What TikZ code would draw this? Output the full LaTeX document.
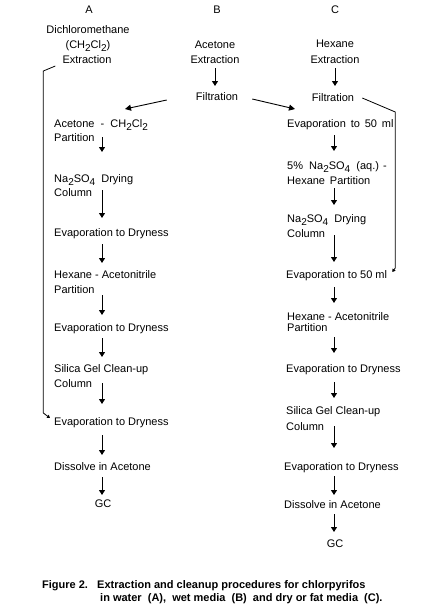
\documentclass[tikz,border=0pt]{standalone}
\usepackage{fontspec}
\setmainfont{Liberation Sans}
\usetikzlibrary{calc,arrows.meta}
\newcommand\dn[1]{\raisebox{-3.5pt}{\fontsize{10}{10}\selectfont #1}}
\begin{document}
\begin{tikzpicture}[x=1pt,y=-1pt,
  lbl/.style={inner sep=0pt, anchor=base west, font=\fontsize{11}{13}\selectfont},
  ctr/.style={lbl, anchor=base},
  arr/.style={line width=1pt, -{Triangle[width=6pt,length=5pt]}},
  diag/.style={line width=0.9pt, -{Triangle[width=6pt,length=6pt]}},
  loopline/.style={line width=0.8pt, -{Triangle[width=3.5pt,length=3pt]}},
  capt/.style={inner sep=0pt, anchor=base west, font=\fontsize{11}{13}\selectfont\bfseries}]
\fill[white] (0,0) rectangle (438,614);
\useasboundingbox (0,0) rectangle (438,614);
\coordinate (xA) at (102,0);
\coordinate (xB) at (215,0);
\coordinate (xC) at (334,0);

% headers
\node[ctr] (hA) at (89,13) {A};
\node[ctr] (hB) at (217,13) {B};
\node[ctr] (hC) at (335,13) {C};

% top of A
\node[ctr] (aDcm) at (88,33) {Dichloromethane};
\node[ctr] (aForm) at (88,48) {(CH\dn{2}Cl\dn{2})};
\node[ctr] (aExt) at (87,63) {Extraction};

% B
\node[ctr] (bAc) at (215,48) {Acetone};
\node[ctr] (bExt) at (215,63) {Extraction};
\node[ctr] (bFilt) at (217,100) {Filtration};

% top of C
\node[ctr] (cHx) at (335,47) {Hexane};
\node[ctr] (cExt) at (335,63) {Extraction};
\node[ctr] (cFilt) at (333,101) {Filtration};

% column A
\node[lbl] (aAcet) at (54,127) {Acetone\ \ -\ \ CH\dn{2}Cl\dn{2}};
\node[lbl] (aPart) at (54,141) {Partition};
\node[lbl] (aNa) at (54,182) {Na\dn{2}SO\dn{4}\ \ Drying};
\node[lbl] (aCol) at (54,196) {Column};
\node[lbl] (aEv1) at (54,236) {Evaporation to Dryness};
\node[lbl] (aHex) at (54,278) {Hexane - Acetonitrile};
\node[lbl] (aPart2) at (54,293) {Partition};
\node[lbl] (aEv2) at (54,331) {Evaporation to Dryness};
\node[lbl] (aSil) at (54,372) {Silica Gel Clean-up};
\node[lbl] (aCol2) at (54,387) {Column};
\node[lbl] (aEv3) at (54,425) {Evaporation to Dryness};
\node[lbl] (aDis) at (54,470) {Dissolve in Acetone};
\node[ctr] (aGC) at (103,507) {GC};

% column C
\node[lbl] (cEv1) at (287,127) {Evaporation\ \,to\ \,50\ \,ml};
\node[lbl] (c5) at (287,169) {5\%\ \ Na\dn{2}SO\dn{4}\ \ (aq.) -};
\node[lbl] (cHP) at (287,184) {Hexane\ \,Partition};
\node[lbl] (cNa) at (287,222) {Na\dn{2}SO\dn{4}\ \ Drying};
\node[lbl] (cCol) at (287,237) {Column};
\node[lbl] (cEv2) at (286,278) {Evaporation to 50 ml};
\node[lbl] (cHex) at (287,320) {Hexane - Acetonitrile};
\node[lbl] (cPart) at (287,331) {Partition};
\node[lbl] (cEv3) at (286,372) {Evaporation to Dryness};
\node[lbl] (cSil) at (286,414) {Silica Gel Clean-up};
\node[lbl] (cCol2) at (286,430) {Column};
\node[lbl] (cEv4) at (284,470) {Evaporation to Dryness};
\node[lbl] (cDis) at (284,508) {Dissolve in Acetone};
\node[ctr] (cGC) at (335,547) {GC};

% B and C top arrows
\draw[arr] ($(bExt.base -| xB)+(0,5)$) -- ($(bFilt.base -| xB)+(0,-14)$);
\draw[arr] ($(cExt.base -| cExt)+(0,5)$) -- ($(cFilt.base -| cExt)+(0,-15)$);
\draw[diag] ($(bFilt.base west)+(-29,0)$) -- ($(aAcet.base west)+(71,-18)$);
\draw[diag] ($(bFilt.base east)+(14,-1)$) -- ($(cEv1.base west)+(8,-18)$);

% column A arrows
\draw[arr] ($(aPart.base -| xA)+(0,-4)$) -- ($(aNa.base -| xA)+(0,-30)$);
\draw[arr] ($(aCol.base -| xA)+(0,-6)$) -- ($(aEv1.base -| xA)+(0,-18)$);
\draw[arr] ($(aEv1.base -| xA)+(0,8)$) -- ($(aHex.base -| xA)+(0,-15)$);
\draw[arr] ($(aPart2.base -| xA)+(0,2)$) -- ($(aEv2.base -| xA)+(0,-16)$);
\draw[arr] ($(aEv2.base -| xA)+(0,7)$) -- ($(aSil.base -| xA)+(0,-15)$);
\draw[arr] ($(aCol2.base -| xA)+(0,-4)$) -- ($(aEv3.base -| xA)+(0,-21)$);
\draw[arr] ($(aEv3.base -| xA)+(0,10)$) -- ($(aDis.base -| xA)+(0,-15)$);
\draw[arr] ($(aDis.base -| xA)+(0,7)$) -- ($(aGC.base -| xA)+(0,-12)$);

% column C arrows
\draw[arr] ($(cEv1.base -| xC)+(0,8)$) -- ($(c5.base -| xC)+(0,-18)$);
\draw[arr] ($(cHP.base -| xC)+(0,4)$) -- ($(cNa.base -| xC)+(0,-17)$);
\draw[arr] ($(cCol.base -| xC)+(0,-2)$) -- ($(cEv2.base -| xC)+(0,-16)$);
\draw[arr] ($(cEv2.base -| xC)+(0,9)$) -- ($(cHex.base -| xC)+(0,-17)$);
\draw[arr] ($(cPart.base -| xC)+(0,6)$) -- ($(cEv3.base -| xC)+(0,-19)$);
\draw[arr] ($(cEv3.base -| xC)+(0,10)$) -- ($(cSil.base -| xC)+(0,-16)$);
\draw[arr] ($(cCol2.base -| xC)+(0,-4)$) -- ($(cEv4.base -| xC)+(0,-22)$);
\draw[arr] ($(cEv4.base -| xC)+(0,6)$) -- ($(cDis.base -| xC)+(0,-13)$);
\draw[arr] ($(cDis.base -| xC)+(0,6)$) -- ($(cGC.base -| xC)+(0,-15)$);

% loop A
\path ($(aExt.base west)+(-7,3)$) coordinate (aL1) ++(-12,5) coordinate (aL2);
\coordinate (aL3) at ($(aEv3.base west)+(-10,-12)$);
\coordinate (aL4) at ($(aEv3.base west)+(-4,-7)$);
\draw[loopline] (aL1) -- (aL2) -- (aL2 |- aL3) -- (aL4);

% loop C
\path ($(cFilt.base east)+(8,-3)$) coordinate (cL1) ++(33,14) coordinate (cL2);
\coordinate (cL4) at ($(cEv2.base east)+(5,-6)$);
\coordinate (cL3) at ($(cL4)+(4,-4)$);
\draw[loopline] (cL1) -- (cL2) -- (cL2 |- cL3) -- (cL4);

% caption
\node[capt] (cap1) at (42,588) {Figure 2.\ \ \ Extraction and cleanup procedures for chlorpyrifos};
\node[capt] (cap2) at (100,601) {in water\ \ (A),\ \ wet media\ \ (B)\ \ and dry or fat media\ \ (C).};
\end{tikzpicture}
\end{document}
